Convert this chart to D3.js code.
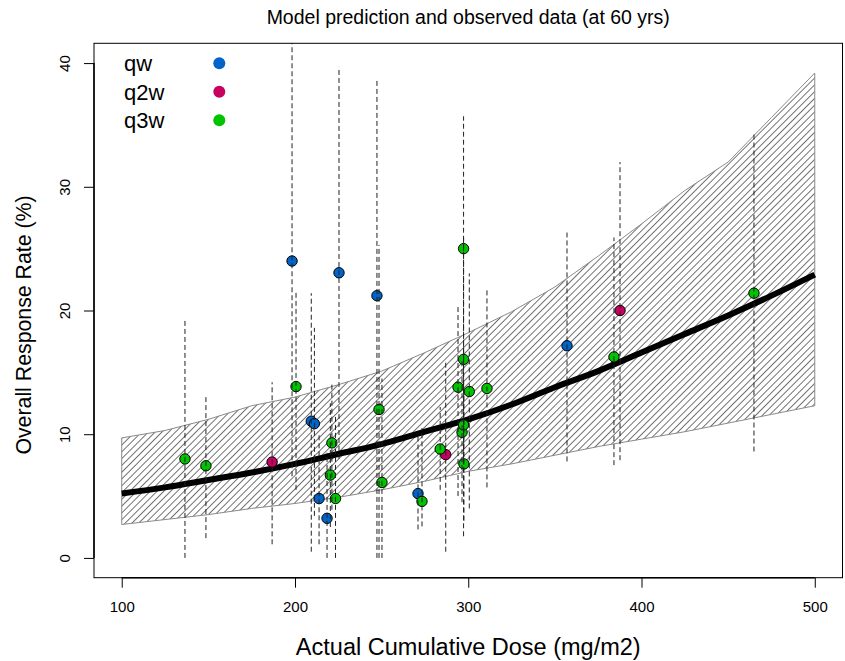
<!DOCTYPE html>
<html>
<head>
<meta charset="utf-8">
<script src="https://cdn.jsdelivr.net/npm/d3@7/dist/d3.min.js"></script>
<style>
    body { margin: 0; background: #fff; }
    svg { font-family: "Liberation Sans", Arial, sans-serif; }
</style>
</head>
<body>
<svg id="chart" width="845" height="661"></svg>
<script>
// model prediction band
var doseGrid = [100, 125, 150, 175, 200, 225, 250, 275, 300, 325, 350, 375, 400, 425, 450, 475, 500];
var predMean = [5.2, 5.7, 6.3, 6.9, 7.6, 8.4, 9.2, 10.2, 11.2, 12.4, 13.8, 15.1, 16.6, 18.1, 19.6, 21.2, 22.9];
var predUpper = [9.7, 10.3, 11.2, 12.3, 13.0, 14.0, 15.1, 16.6, 18.2, 19.9, 21.9, 24.4, 27.0, 29.7, 32.0, 35.6, 39.2];
var predLower = [2.7, 3.1, 3.5, 4.0, 4.4, 4.9, 5.5, 6.2, 7.0, 7.6, 8.3, 9.0, 9.6, 10.2, 10.9, 11.6, 12.3];

// observed data with interval
var obsRegimen = ["qw", "qw", "qw", "qw", "qw", "qw", "qw", "qw", "qw",
    "q2w", "q2w", "q2w",
    "q3w", "q3w", "q3w", "q3w", "q3w", "q3w", "q3w", "q3w", "q3w", "q3w",
    "q3w", "q3w", "q3w", "q3w", "q3w", "q3w", "q3w", "q3w", "q3w", "q3w"];
var obsDose = [198.3, 209.4, 211.2, 213.9, 218.5, 225.4, 247.3, 271.0, 357.0,
    186.8, 287.0, 387.6,
    136.5, 148.6, 200.6, 221.3, 220.4, 223.4, 248.5, 250.2, 273.3, 283.8,
    294.1, 296.4, 297.3, 297.3, 297.3, 297.5, 300.6, 310.8, 384.1, 464.9];
var obsRate = [24.0, 11.05, 10.85, 4.8, 3.2, 23.05, 21.2, 5.2, 17.15,
    7.75, 8.35, 20.0,
    8.0, 7.45, 13.85, 9.3, 6.7, 4.8, 12.0, 6.1, 4.57, 8.8,
    13.8, 10.15, 10.75, 25.0, 16.05, 7.6, 13.45, 13.7, 16.25, 21.4];
var obsLower = [6.6, 0.5, 3.4, 1.1, 0.0, 8.0, 0.0, 2.3, 7.8,
    1.1, 0.5, 7.9,
    0.0, 1.6, 5.5, 3.9, 2.5, 0.0, 0.0, 0.0, 2.55, 5.5,
    5.0, 4.5, 1.75, 14.0, 8.0, 3.0, 4.0, 5.7, 7.5, 8.6];
var obsUpper = [42.5, 21.4, 18.6, 10.0, 8.5, 39.7, 38.6, 9.8, 26.3,
    14.2, 16.0, 32.0,
    19.2, 13.1, 21.6, 14.2, 12.5, 11.5, 25.3, 14.5, 10.5, 12.2,
    20.3, 16.0, 17.0, 35.7, 26.0, 14.0, 23.0, 21.7, 25.9, 34.3];

var regimens = ["qw", "q2w", "q3w"];
var regimenColors = ["#0064C8", "#C8005F", "#00C400"];

var xTicks = [100, 200, 300, 400, 500];
var yTicks = [0, 10, 20, 30, 40];

var svg = d3.select("#chart");

var box = { left: 94, right: 842.5, top: 43.3, bottom: 577.7 };

var xScale = d3.scaleLinear().domain([84, 516]).range([box.left, box.right]);
var yScale = d3.scaleLinear().domain([-1.6, 41.6]).range([box.bottom, box.top]);
var colorScale = d3.scaleOrdinal().domain(regimens).range(regimenColors);

var defs = svg.append("defs");

// diagonal hatching for the band
defs.append("pattern")
    .attr("id", "hatch")
    .attr("patternUnits", "userSpaceOnUse")
    .attr("width", 4.8)
    .attr("height", 4.8)
    .attr("patternTransform", "rotate(45)")
    .append("line")
    .attr("x1", 2.4).attr("y1", -1)
    .attr("x2", 2.4).attr("y2", 5.8)
    .attr("stroke", "#6e6e6e")
    .attr("stroke-width", 1);

defs.append("clipPath")
    .attr("id", "plotClip")
    .append("rect")
    .attr("x", box.left)
    .attr("y", box.top)
    .attr("width", box.right - box.left)
    .attr("height", box.bottom - box.top);

var band = doseGrid.map(function (d, i) {
    return { dose: d, lo: predLower[i], hi: predUpper[i], mean: predMean[i] };
});

var obs = obsDose.map(function (d, i) {
    return { dose: d, rate: obsRate[i], lo: obsLower[i], hi: obsUpper[i], reg: obsRegimen[i] };
});

var plot = svg.append("g").attr("clip-path", "url(#plotClip)");

var areaGen = d3.area()
    .x(function (d) { return xScale(d.dose); })
    .y0(function (d) { return yScale(d.lo); })
    .y1(function (d) { return yScale(d.hi); });

plot.append("path")
    .datum(band)
    .attr("d", areaGen)
    .attr("fill", "url(#hatch)")
    .attr("stroke", "#8a8a8a")
    .attr("stroke-width", 1);

var meanLine = d3.line()
    .curve(d3.curveMonotoneX)
    .x(function (d) { return xScale(d.dose); })
    .y(function (d) { return yScale(d.mean); });

plot.append("path")
    .datum(band)
    .attr("d", meanLine)
    .attr("fill", "none")
    .attr("stroke", "#000")
    .attr("stroke-width", 6);

plot.selectAll("circle.obs")
    .data(obs)
    .enter()
    .append("circle")
    .attr("class", "obs")
    .attr("cx", function (d) { return xScale(d.dose); })
    .attr("cy", function (d) { return yScale(d.rate); })
    .attr("r", 5.2)
    .attr("fill", function (d) { return colorScale(d.reg); })
    .attr("stroke", "#000")
    .attr("stroke-width", 1);

plot.selectAll("line.ci")
    .data(obs)
    .enter()
    .append("line")
    .attr("class", "ci")
    .attr("x1", function (d) { return xScale(d.dose); })
    .attr("x2", function (d) { return xScale(d.dose); })
    .attr("y1", function (d) { return yScale(d.lo); })
    .attr("y2", function (d) { return yScale(d.hi); })
    .attr("stroke", "#222")
    .attr("stroke-width", 1)
    .attr("stroke-dasharray", "5,3");

// frame
svg.append("rect")
    .attr("x", box.left)
    .attr("y", box.top)
    .attr("width", box.right - box.left)
    .attr("height", box.bottom - box.top)
    .attr("fill", "none")
    .attr("stroke", "#000")
    .attr("stroke-width", 1);

// axes
var xAxis = svg.append("g")
    .attr("transform", "translate(0," + box.bottom + ")")
    .call(d3.axisBottom(xScale).tickValues(xTicks).tickSize(10).tickPadding(14).tickFormat(d3.format("d")));
xAxis.select(".domain").attr("d", "M" + xScale(100) + ",0H" + xScale(500)).attr("stroke-width", 1.5);
xAxis.selectAll("text").attr("font-size", 15).attr("fill", "#000")
    .attr("font-family", "'Liberation Sans', Arial, sans-serif");

var yAxis = svg.append("g")
    .attr("transform", "translate(" + box.left + ",0)")
    .call(d3.axisLeft(yScale).tickValues(yTicks).tickSize(10).tickPadding(0));
yAxis.select(".domain").attr("d", "M0," + yScale(0) + "V" + yScale(40)).attr("stroke-width", 1.5);
yAxis.selectAll("text")
    .attr("font-size", 15)
    .attr("fill", "#000")
    .attr("font-family", "'Liberation Sans', Arial, sans-serif")
    .attr("text-anchor", "middle")
    .attr("dy", null)
    .attr("x", null)
    .attr("transform", "translate(-29,0) rotate(-90)")
    .attr("y", 5);

// titles
svg.append("text")
    .attr("x", (box.left + box.right) / 2)
    .attr("y", 24)
    .attr("text-anchor", "middle")
    .attr("font-size", 19.5)
    .text("Model prediction and observed data (at 60 yrs)");

svg.append("text")
    .attr("x", (box.left + box.right) / 2)
    .attr("y", 655)
    .attr("text-anchor", "middle")
    .attr("font-size", 23.5)
    .text("Actual Cumulative Dose (mg/m2)");

svg.append("text")
    .attr("transform", "translate(31,325) rotate(-90)")
    .attr("text-anchor", "middle")
    .attr("font-size", 21.3)
    .text("Overall Response Rate (%)");

// legend
var legend = svg.append("g");
regimens.forEach(function (r, i) {
    legend.append("text")
        .attr("x", 124)
        .attr("y", 71 + i * 28.5)
        .attr("font-size", 22)
        .text(r);
    legend.append("circle")
        .attr("cx", 219.3)
        .attr("cy", 63.3 + i * 28.5)
        .attr("r", 6)
        .attr("fill", colorScale(r));
});
</script>
</body>
</html>
